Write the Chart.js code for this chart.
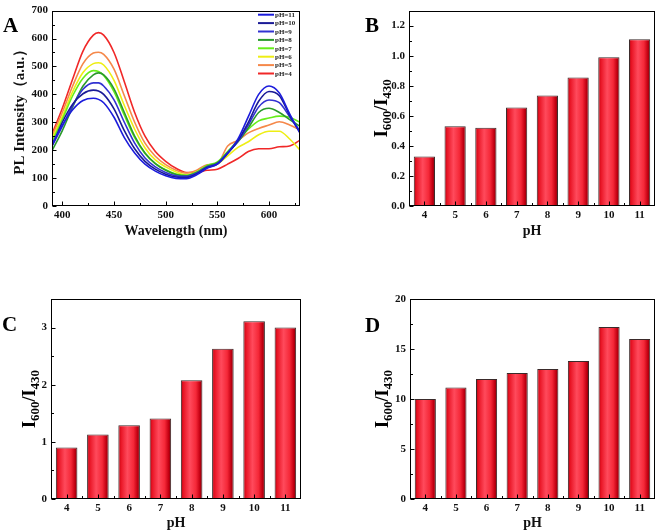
<!DOCTYPE html>
<html><head><meta charset="utf-8">
<script src="https://cdn.jsdelivr.net/npm/chart.js@4.4.1/dist/chart.umd.min.js"></script>
<style>
html,body{margin:0;padding:0;background:#fff;}
body{width:661px;height:532px;position:relative;overflow:hidden;}
canvas{position:absolute;}
</style></head><body>
<canvas id="cA" width="330" height="250" style="left:0;top:0"></canvas>
<canvas id="cB" width="331" height="250" style="left:330px;top:0"></canvas>
<canvas id="cC" width="330" height="282" style="left:0;top:250px"></canvas>
<canvas id="cD" width="331" height="282" style="left:330px;top:250px"></canvas>
<script>
// ---------- DATA ----------
const wavelengths = [390,400,410,420,430,435,440,450,460,470,480,490,500,510,520,530,540,550,560,570,580,590,600,610,620,630];
const seriesLabels = ['pH=11','pH=10','pH=9','pH=8','pH=7','pH=6','pH=5','pH=4'];
const pH11 = [220,290,345,378,386,382,370,318,245,190,150,125,108,99,98,112,135,150,190,240,320,400,430,405,330,262];
const pH10 = [215,300,365,402,415,412,400,348,270,205,160,132,114,104,102,115,138,150,188,235,300,375,410,395,325,262];
const pH9  = [215,285,360,418,441,441,430,380,300,225,172,140,120,108,106,118,140,152,190,232,290,355,380,370,320,268];
const pH8  = [198,270,355,430,470,477,470,420,335,250,190,152,128,113,108,120,142,155,192,230,280,335,350,335,310,285];
const pH7  = [230,310,395,458,485,482,468,410,325,245,188,152,130,115,110,122,145,158,195,235,275,305,315,322,318,300];
const pH6  = [240,320,410,478,510,513,505,450,360,275,208,165,140,122,112,122,138,150,180,210,230,255,268,268,240,200];
const pH5  = [250,335,430,510,548,551,543,490,395,300,225,178,148,128,118,128,148,152,215,235,262,278,290,302,290,272];
const pH4  = [258,350,455,555,612,621,612,550,445,335,250,195,160,135,120,120,128,132,150,170,195,205,205,212,215,236];
const xTicksA = [400,450,500,550,600];
const yTicksA = [0,100,200,300,400,500,600,700];

const pHCategories = ['4','5','6','7','8','9','10','11'];
const ratioB = [0.33,0.53,0.52,0.655,0.735,0.855,0.99,1.11];
const ratioC = [0.90,1.13,1.29,1.41,2.08,2.63,3.11,3.00];
const ratioD = [10.0,11.15,12.0,12.6,13.0,13.8,17.2,16.0];
const yTicksB = [0,0.2,0.4,0.6,0.8,1.0,1.2];
const yTicksC = [0,1,2,3];
const yTicksD = [0,5,10,15,20];

// ---------- STYLE ----------
const SERIF = "'Liberation Serif','Times New Roman',Times,serif";
const seriesColors = ['#1c1cdc','#1a1a96','#3232d2','#2a9a2a','#66ee1a','#eeee14','#f5884a','#f02828'];
const BAR_PCT = 0.69;
Chart.defaults.font.family = SERIF;
Chart.defaults.font.weight = 'bold';
Chart.defaults.color = '#111';
Chart.defaults.animation = false;

const framePlugin = {
  id: 'frame',
  afterDatasetsDraw(chart) {
    const {ctx, chartArea: a, scales: {x, y}} = chart;
    ctx.save();
    ctx.strokeStyle = '#000'; ctx.lineWidth = 1;
    const L = Math.round(a.left) + 0.5, R = Math.round(a.right) - 0.5;
    const T = Math.round(a.top) + 0.5, B = Math.round(a.bottom) - 0.5;
    ctx.beginPath();
    const yt = y.ticks.map(t => t.value);
    yt.forEach(v => { const p = Math.round(y.getPixelForValue(v)) + 0.5; ctx.moveTo(L, p); ctx.lineTo(L + 4, p); });
    for (let i = 0; i < yt.length - 1; i++) {
      const p = Math.round(y.getPixelForValue((yt[i] + yt[i + 1]) / 2)) + 0.5; ctx.moveTo(L, p); ctx.lineTo(L + 2.5, p);
    }
    if (x.type === 'category') {
      const n = chart.data.labels.length;
      for (let i = 0; i < n; i++) { const p = Math.round(x.getPixelForValue(i)) + 0.5; ctx.moveTo(p, B); ctx.lineTo(p, B - 4); }
      for (let i = 0; i < n - 1; i++) { const p = Math.round(x.getPixelForValue(i + 0.5)) + 0.5; ctx.moveTo(p, B); ctx.lineTo(p, B - 2.5); }
    } else {
      const xt = x.ticks.map(t => t.value);
      xt.forEach(v => { const p = Math.round(x.getPixelForValue(v)) + 0.5; ctx.moveTo(p, B); ctx.lineTo(p, B - 4); });
      const step = xt[1] - xt[0];
      const minors = [];
      for (let i = 0; i < xt.length - 1; i++) minors.push((xt[i] + xt[i + 1]) / 2);
      if (xt[xt.length - 1] + step / 2 <= x.max) minors.push(xt[xt.length - 1] + step / 2);
      if (xt[0] - step / 2 >= x.min) minors.push(xt[0] - step / 2);
      minors.forEach(v => { const p = Math.round(x.getPixelForValue(v)) + 0.5; ctx.moveTo(p, B); ctx.lineTo(p, B - 2.5); });
    }
    ctx.stroke();
    ctx.strokeRect(L, T, R - L, B - T);
    ctx.restore();
  }
};

const textPlugin = {
  id: 'panelText',
  afterDraw(chart, args, o) {
    const ctx = chart.ctx, a = chart.chartArea;
    ctx.save();
    ctx.fillStyle = '#000';
    ctx.font = `bold 21px ${SERIF}`; ctx.textAlign = 'left'; ctx.textBaseline = 'middle';
    ctx.fillText(o.letter, o.letterX, o.letterY);
    if (o.ratioTitle) {
      const parts = [['I', false], ['600', true], ['/I', false], ['430', true]];
      const big = `bold 18px ${SERIF}`, small = `bold 13px ${SERIF}`;
      let total = 0;
      parts.forEach(p => { ctx.font = p[1] ? small : big; total += ctx.measureText(p[0]).width; });
      ctx.translate(o.titleX, (a.top + a.bottom) / 2);
      ctx.rotate(-Math.PI / 2);
      ctx.textBaseline = 'alphabetic';
      let cx = -total / 2;
      parts.forEach(p => {
        ctx.font = p[1] ? small : big;
        ctx.fillText(p[0], cx, p[1] ? 9 : 5);
        cx += ctx.measureText(p[0]).width;
      });
    }
    ctx.restore();
  }
};

const insideLegend = {
  id: 'insideLegend',
  afterDraw(chart, args, o) {
    if (!o || !o.show) return;
    const ctx = chart.ctx;
    ctx.save();
    ctx.font = `bold 7px ${SERIF}`; ctx.textBaseline = 'middle'; ctx.textAlign = 'left';
    chart.data.datasets.forEach((ds, i) => {
      const yy = o.top + i * o.gap;
      ctx.strokeStyle = ds.borderColor; ctx.lineWidth = 2;
      ctx.beginPath(); ctx.moveTo(o.left, yy); ctx.lineTo(o.left + 16, yy); ctx.stroke();
      ctx.fillStyle = '#222'; ctx.fillText(ds.label, o.left + 17, yy + 0.5);
    });
    ctx.restore();
  }
};
Chart.register(framePlugin, textPlugin, insideLegend);

// ---------- CHART A ----------
const seriesA = [pH11, pH10, pH9, pH8, pH7, pH6, pH5, pH4];
new Chart(document.getElementById('cA'), {
  type: 'line',
  data: {
    datasets: seriesA.map((s, i) => ({
      label: seriesLabels[i],
      data: wavelengths.map((w, j) => ({x: w, y: s[j]})),
      borderColor: seriesColors[i], borderWidth: 1.6, pointRadius: 0,
      cubicInterpolationMode: 'monotone', fill: false
    }))
  },
  options: {
    responsive: false, animation: false,
    layout: {padding: {left: 0, right: 30, top: 6, bottom: 0}},
    plugins: {
      legend: {display: false}, tooltip: {enabled: false},
      panelText: {letter: 'A', letterX: 3, letterY: 27, ratioTitle: false},
      insideLegend: {show: true, left: 258, top: 14.7, gap: 8.4}
    },
    scales: {
      x: {
        type: 'linear', min: 390, max: 630,
        afterBuildTicks: s => { s.ticks = xTicksA.map(v => ({value: v})); },
        afterFit: s => { s.height = 44; },
        grid: {display: false, drawTicks: false}, border: {display: false},
        ticks: {font: {size: 11, weight: 'bold'}, padding: 3, maxRotation: 0},
        title: {display: true, text: 'Wavelength (nm)', font: {size: 14, weight: 'bold'}, padding: {top: 0, bottom: 10}}
      },
      y: {
        min: 0, max: 700,
        afterBuildTicks: s => { s.ticks = yTicksA.map(v => ({value: v})); },
        afterFit: s => { s.width = 52; },
        grid: {display: false, drawTicks: false}, border: {display: false},
        ticks: {font: {size: 11, weight: 'bold'}, padding: 4},
        title: {display: true, text: 'PL Intensity（a.u.）', font: {size: 15, weight: 'bold'}, padding: {top: 11, bottom: 0}}
      }
    }
  }
});

// ---------- BAR CHARTS ----------
function barFill(c) {
  const chart = c.chart, x = chart.scales.x;
  if (c.dataIndex === undefined || !x || !chart.chartArea) return '#ee2030';
  const cx = x.getPixelForValue(c.dataIndex);
  const w = (x.width / chart.data.labels.length) * BAR_PCT;
  const g = chart.ctx.createLinearGradient(cx - w / 2, 0, cx + w / 2, 0);
  g.addColorStop(0, '#b0000e');
  g.addColorStop(0.12, '#e81424');
  g.addColorStop(0.42, '#ff4a5c');
  g.addColorStop(0.7, '#f52838');
  g.addColorStop(0.88, '#c40012');
  g.addColorStop(1, '#7a0008');
  return g;
}

function barChart(id, values, yTicks, yMax, decimals, cfg) {
  new Chart(document.getElementById(id), {
    type: 'bar',
    data: {
      labels: pHCategories,
      datasets: [{data: values, backgroundColor: barFill, borderColor: '#3a2a2a', borderWidth: 1,
        borderSkipped: 'bottom', barPercentage: BAR_PCT, categoryPercentage: 1}]
    },
    options: {
      responsive: false, animation: false,
      layout: {padding: {left: 0, right: cfg.right, top: cfg.top, bottom: 0}},
      plugins: {
        legend: {display: false}, tooltip: {enabled: false},
        panelText: {letter: cfg.letter, letterX: cfg.lx, letterY: cfg.ly, ratioTitle: true, titleX: cfg.tx},
        insideLegend: {show: false}
      },
      scales: {
        x: {
          afterFit: s => { s.height = cfg.xh; },
          grid: {display: false, drawTicks: false}, border: {display: false},
          ticks: {font: {size: 11, weight: 'bold'}, padding: 3},
          title: {display: true, text: 'pH', font: {size: 14, weight: 'bold'}, padding: {top: 0, bottom: cfg.tpad}}
        },
        y: {
          min: 0, max: yMax,
          afterBuildTicks: s => { s.ticks = yTicks.map(v => ({value: v})); },
          afterFit: s => { s.width = cfg.yw; },
          grid: {display: false, drawTicks: false}, border: {display: false},
          ticks: {font: {size: 11, weight: 'bold'}, padding: 4, callback: v => Number(v).toFixed(decimals)}
        }
      }
    }
  });
}

barChart('cB', ratioB, yTicksB, 1.3, 1, {letter: 'B', lx: 35, ly: 27, tx: 52, right: 6, top: 6, xh: 44, yw: 79, tpad: 10});
barChart('cC', ratioC, yTicksC, 3.5, 0, {letter: 'C', lx: 2, ly: 76, tx: 30, right: 29, top: 49, xh: 33, yw: 51, tpad: 0});
barChart('cD', ratioD, yTicksD, 20, 0, {letter: 'D', lx: 35, ly: 77, tx: 53, right: 6, top: 49, xh: 33, yw: 80, tpad: 0});
</script></body></html>
